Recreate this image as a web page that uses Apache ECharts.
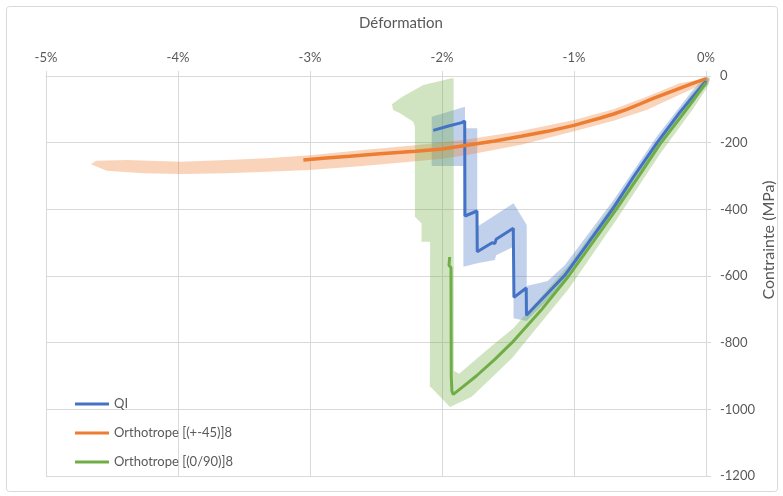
<!DOCTYPE html>
<html><head><meta charset="utf-8">
<script src="https://cdn.jsdelivr.net/npm/echarts@6/dist/echarts.min.js"></script>
<style>html,body{margin:0;padding:0;background:#fff}#c{width:783px;height:496px}</style>
</head><body><div id="c"></div>
<script>
// ---- data (strain in %, stress in MPa) ----
const seriesNames = ['QI', 'Orthotrope [(+-45)]8', 'Orthotrope [(0/90)]8'];
const xTickValues = [-5, -4, -3, -2, -1, 0];
const yTickValues = [0, -200, -400, -600, -800, -1000, -1200];
const xTitle = 'Déformation';
const yTitle = 'Contrainte (MPa)';

const qiLine = [[0,-15],[-0.1,-62],[-0.2,-110],[-0.37,-200],[-0.55,-303],[-0.7,-395],[-0.9,-505],[-1.07,-598],[-1.2,-652],[-1.36,-718],[-1.362,-636],[-1.455,-664],[-1.46,-457],[-1.59,-490],[-1.60,-503],[-1.62,-500],[-1.733,-527],[-1.735,-405],[-1.826,-420],[-1.828,-135],[-1.85,-140],[-1.95,-150],[-2.066,-163]];
const pm45Line = [[0,-8],[-0.1,-22],[-0.2,-37],[-0.3,-52],[-0.4,-67],[-0.5,-84],[-0.6,-100],[-0.7,-114],[-0.8,-126],[-0.9,-137],[-1.0,-148],[-1.2,-166],[-1.4,-181],[-1.6,-195],[-1.8,-207],[-2.0,-219],[-2.2,-226],[-2.47,-233],[-2.7,-241],[-2.9,-247],[-3.05,-252]];
const o090Line = [[0,-20],[-0.1,-75],[-0.2,-128],[-0.35,-205],[-0.5,-295],[-0.68,-400],[-0.85,-495],[-1.04,-600],[-1.25,-703],[-1.47,-800],[-1.6,-850],[-1.74,-900],[-1.85,-935],[-1.915,-955],[-1.925,-945],[-1.93,-900],[-1.932,-575],[-1.947,-568],[-1.942,-543]];

const qiBand = [[-2.078,-122],[-1.826,-92],[-1.826,-157],[-1.733,-157],[-1.733,-452],[-1.458,-382],[-1.358,-447],[-1.358,-630],[-1.2,-615],[-1.07,-568],[-0.7,-372],[-0.37,-180],[-0.1,-42],[0,-2],[0.02,-5],[0.02,-22],[-0.1,-78],[-0.37,-218],[-0.7,-415],[-1.07,-620],[-1.2,-672],[-1.36,-735],[-1.458,-727],[-1.458,-512],[-1.59,-538],[-1.60,-552],[-1.733,-562],[-1.838,-572],[-1.838,-270],[-2.078,-270]];
const pm45Band = [[0.03,-5],[-0.2,-22],[-0.45,-62],[-0.7,-100],[-1.0,-132],[-1.4,-165],[-1.8,-190],[-2.2,-208],[-2.6,-222],[-3.0,-238],[-3.33,-247],[-3.63,-252],[-3.98,-257],[-4.39,-252],[-4.62,-254],[-4.66,-265],[-4.54,-284],[-4.26,-292],[-3.98,-294],[-3.63,-292],[-3.33,-287],[-3.0,-282],[-2.6,-270],[-2.2,-256],[-2.0,-248],[-1.8,-236],[-1.4,-206],[-1.0,-166],[-0.7,-134],[-0.45,-102],[-0.2,-56],[0,-20],[0.03,-15]];
const o090Band = [[-2.38,-85],[-2.30,-62],[-2.142,-27],[-1.927,-7],[-1.912,-7],[-1.91,-885],[-1.87,-893],[-1.66,-822],[-1.46,-757],[-1.04,-568],[-0.68,-372],[-0.35,-182],[-0.1,-50],[0,-5],[0.02,-5],[0.02,-25],[0,-40],[-0.1,-100],[-0.35,-235],[-0.68,-432],[-1.04,-638],[-1.47,-847],[-1.775,-962],[-1.94,-993],[-2.08,-935],[-2.092,-932],[-2.09,-497],[-2.155,-497],[-2.155,-442],[-2.205,-422],[-2.205,-152],[-2.218,-137],[-2.318,-112],[-2.37,-102]];

const colors = ['#4472C4', '#ED7D31', '#70AD47'];
const FONT = 'Lato';
const TXT = '#595959';
const GRID = '#d9d9d9';

function bandSeries(id, pts, color) {
  return {
    type: 'custom', id: id, silent: true, z: 1, animation: false,
    data: [[pts[0][0], pts[0][1]]],
    renderItem: function (params, api) {
      return {
        type: 'polygon',
        shape: { points: pts.map(function (d) { return api.coord(d); }) },
        style: { fill: color, opacity: 0.33 }
      };
    }
  };
}
function lineSeries(name, data, color, w) {
  return {
    type: 'line', name: name, data: data, showSymbol: false, symbol: 'none',
    lineStyle: { color: color, width: w }, itemStyle: { color: color },
    z: 2, animation: false, silent: true
  };
}

const chart = echarts.init(document.getElementById('c'), null, { renderer: 'canvas' });
chart.setOption({
  animation: false,
  backgroundColor: '#fff',
  textStyle: { fontFamily: FONT },
  graphic: [{
    type: 'rect', silent: true, z: -10,
    shape: { x: 6.5, y: 6.5, width: 771, height: 485, r: 3 },
    style: { fill: 'none', stroke: GRID, lineWidth: 1 }
  }, {
    type: 'text', silent: true, x: 401, y: 23,
    style: { text: xTitle, fill: TXT, font: '15px ' + FONT, align: 'center', verticalAlign: 'middle' }
  }, {
    type: 'text', silent: true, x: 769, y: 240, rotation: Math.PI / 2,
    style: { text: yTitle, fill: TXT, font: '16px ' + FONT, align: 'center', verticalAlign: 'middle' }
  }],
  grid: { left: 46, right: 77, top: 76, bottom: 20, containLabel: false, outerBoundsMode: 'none' },
  legend: {
    orient: 'vertical', left: 70, top: 392, itemWidth: 34, itemHeight: 3, itemGap: 15,
    icon: 'rect',
    data: seriesNames,
    textStyle: { color: TXT, fontSize: 13, lineHeight: 14, fontFamily: FONT }
  },
  xAxis: {
    type: 'value', position: 'top', min: xTickValues[0], max: xTickValues[xTickValues.length - 1], interval: 1,
    axisLine: { show: true, lineStyle: { color: GRID } },
    axisTick: { show: true, length: 5, lineStyle: { color: GRID } },
    axisLabel: { color: TXT, fontSize: 13, fontFamily: FONT, margin: 12, formatter: function (v) { return v + '%'; } },
    splitLine: { show: true, lineStyle: { color: GRID } }
  },
  yAxis: {
    type: 'value', position: 'right', min: yTickValues[yTickValues.length - 1], max: yTickValues[0], interval: 200,
    axisLine: { show: true, lineStyle: { color: GRID } },
    axisTick: { show: true, length: 5, lineStyle: { color: GRID } },
    axisLabel: { color: TXT, fontSize: 13, fontFamily: FONT, margin: 14, formatter: function (v) { return String(v); } },
    splitLine: { show: true, lineStyle: { color: GRID } }
  },
  series: [
    bandSeries('bandQI', qiBand, colors[0]),
    bandSeries('bandPM45', pm45Band, colors[1]),
    bandSeries('band090', o090Band, colors[2]),
    lineSeries(seriesNames[0], qiLine, colors[0], 3),
    lineSeries(seriesNames[1], pm45Line, colors[1], 3.5),
    lineSeries(seriesNames[2], o090Line, colors[2], 3)
  ]
});
</script>
</body></html>
